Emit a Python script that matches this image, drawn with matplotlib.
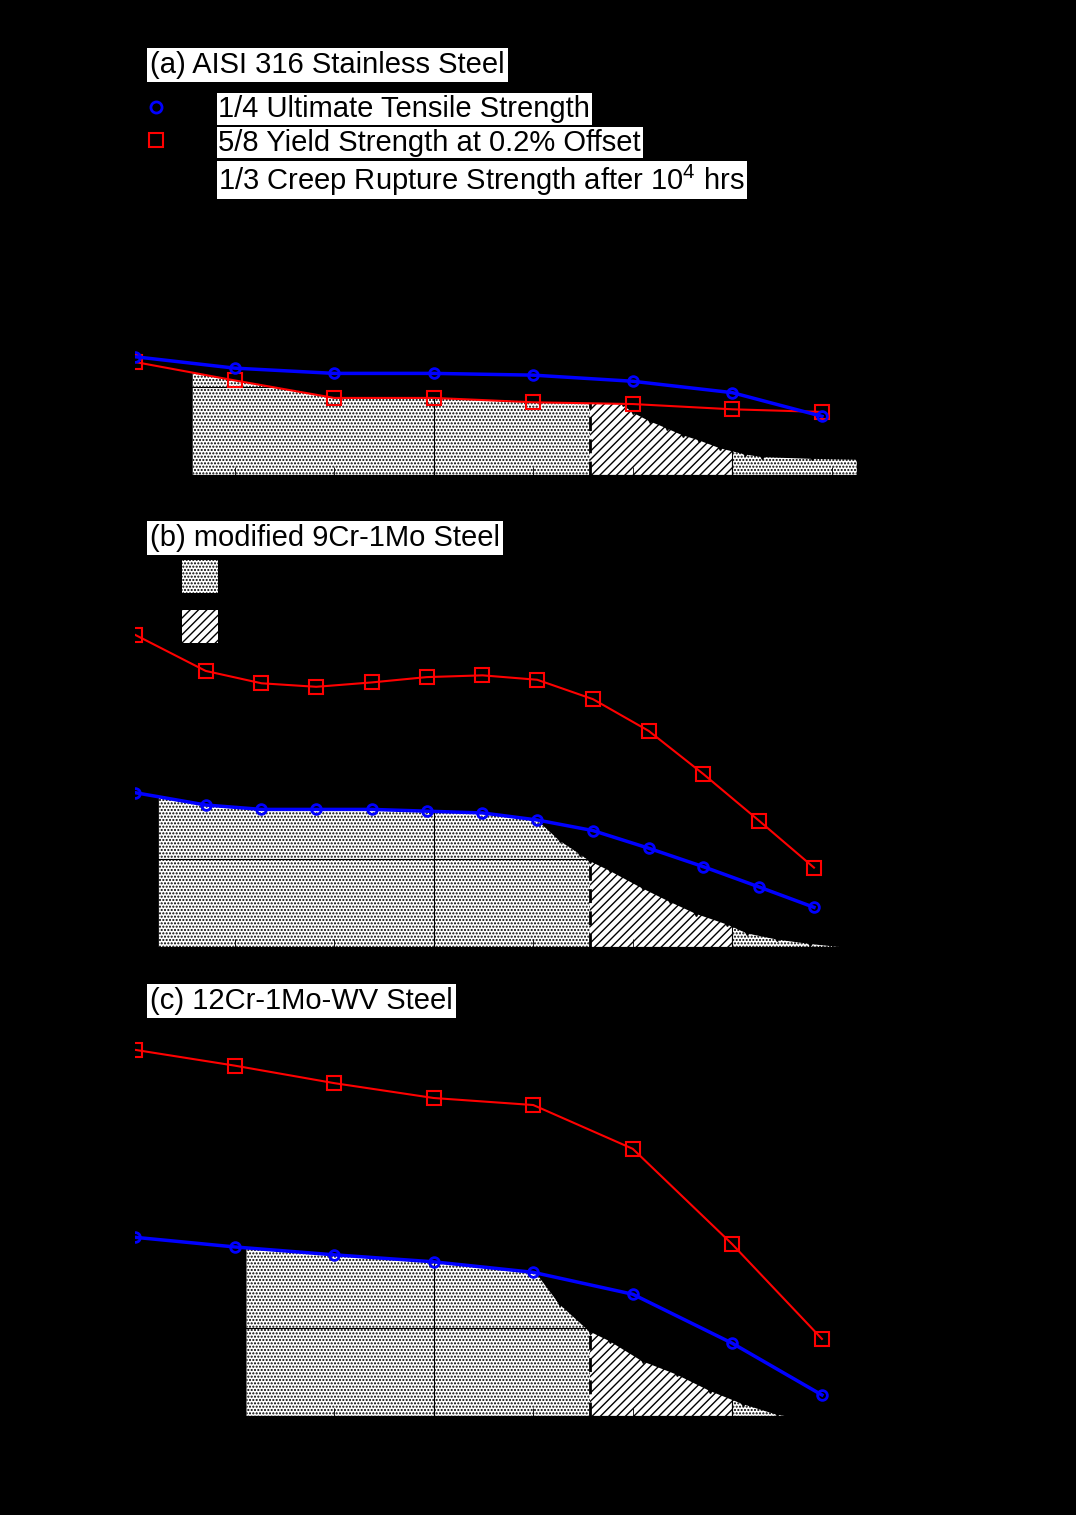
import numpy as np
import matplotlib
matplotlib.use('Agg')
import matplotlib.pyplot as plt
from matplotlib.lines import Line2D
from matplotlib.patches import Patch

plt.rcParams['font.family'] = ['Liberation Sans', 'DejaVu Sans']
plt.rcParams['mathtext.default'] = 'regular'
plt.rcParams['hatch.linewidth'] = 1.0
plt.rcParams['hatch.color'] = 'black'

# (a) AISI 316 stainless steel
T_a = [300, 400, 500, 600, 700, 800, 900, 990]
uts_a = [135, 122, 116, 116, 114, 107, 94, 67]
ys_a = [129, 108, 88, 88, 83, 81, 75, 72]
creepT_a = [760, 790, 800, 817, 834, 850, 867, 888, 913, 930, 980, 1025]
creep_a = [95, 82, 73, 63, 55, 47, 41, 32, 25, 22, 20, 19]

# (b) modified 9Cr-1Mo steel
T_b = [300, 371, 427, 482, 538, 593, 649, 704, 760, 816, 871, 927, 982]
uts_b = [175, 161, 156, 156, 156, 154, 152, 144, 132, 112, 91, 68, 45]
ys_b = [354, 313, 299, 295, 300, 306, 308, 303, 281, 245, 196, 143, 90]
creepT_b = [700, 727, 747, 757, 777, 810, 837, 864, 895, 915, 945, 978, 1021]
creep_b = [150, 122, 107, 99, 88, 68, 53, 39, 27, 17, 10, 5, 0]

# (c) 12Cr-1Mo-WV steel
T_c = [300, 400, 500, 600, 700, 800, 900, 990]
uts_c = [204, 193, 184, 176, 164, 139, 83, 24]
ys_c = [418, 400, 380, 363, 355, 305, 196, 88]
creepT_c = [700, 727, 757, 777, 810, 844, 878, 911, 945, 961]
creep_c = [170, 129, 98, 87, 64, 49, 30, 15, 3, 0]

# region limits (start / end of shaded area)
fill_lim = {'a': (358, 1025), 'b': (324, 1021), 'c': (412, 961)}
T_dash = 757
T_hatch_end = 900

titles = {'a': '(a) AISI 316 Stainless Steel',
          'b': '(b) modified 9Cr-1Mo Steel',
          'c': '(c) 12Cr-1Mo-WV Steel'}

FS = 21

fig = plt.figure(figsize=(10.76, 15.15), dpi=100, facecolor='black')
left = 135 / 1076
width = (1031 - 135) / 1076
tops = [37, 506, 978]
bots = [475, 947, 1416]
axes = []
for t, b in zip(tops, bots):
    ax = fig.add_axes([left, 1 - b / 1515, width, (b - t) / 1515])
    axes.append(ax)

data = [('a', T_a, uts_a, ys_a, creepT_a, creep_a),
        ('b', T_b, uts_b, ys_b, creepT_b, creep_b),
        ('c', T_c, uts_c, ys_c, creepT_c, creep_c)]

for ax, (key, T, uts, ys, cT, cS) in zip(axes, data):
    ax.set_facecolor('black')
    t0, t1 = fill_lim[key]
    grid = np.union1d(np.linspace(t0, t1, 600), [T_dash, T_hatch_end])
    # allowable stress = lowest of the three criteria
    top = np.minimum.reduce([np.interp(grid, T, uts),
                             np.interp(grid, T, ys),
                             np.interp(grid, cT, cS, left=np.inf)])
    m1 = grid <= T_dash
    m2 = (grid >= T_dash) & (grid <= T_hatch_end)
    m3 = grid >= T_hatch_end
    ax.fill_between(grid[m1], 0, top[m1], facecolor='white', edgecolor='black',
                    hatch='.....', linewidth=0, zorder=1)
    ax.fill_between(grid[m2], 0, top[m2], facecolor='white', edgecolor='black',
                    hatch='////', linewidth=0, zorder=1)
    ax.fill_between(grid[m3], 0, top[m3], facecolor='white', edgecolor='black',
                    hatch='.....', linewidth=0, zorder=1)
    ax.vlines(T_dash, 0, np.interp(T_dash, grid, top), colors='black',
              linestyles=(0, (5, 3)), linewidth=2, zorder=2)

    ax.plot(cT, cS, color='black', lw=2, marker='v', ms=5, zorder=2.6)
    ax.plot(T, ys, color='red', lw=1.5, marker='s', ms=10, mfc='none', mew=1.5, zorder=3)
    ax.plot(T, uts, color='blue', lw=2.5, marker='o', ms=7, mfc='none', mew=2, zorder=3)

    ax.set_xlim(300, 1200)
    ax.set_ylim(0, 500)
    ax.set_xticks([300, 600, 900, 1200])
    ax.set_xticks(np.arange(300, 1201, 100), minor=True)
    ax.set_yticks([0, 100, 200, 300, 400, 500])
    ax.grid(True, which='major', color='black', linewidth=0.8)
    ax.set_axisbelow(False)
    ax.tick_params(direction='in', which='both', colors='black', labelsize=FS,
                   length=6, pad=10)
    ax.tick_params(which='major', length=10)
    for s in ax.spines.values():
        s.set_color('black')
    ax.set_ylabel('Stress (MPa)', fontsize=FS, color='black')
    ax.yaxis.set_label_coords(-0.1, 0.5)
    if key != 'c':
        ax.tick_params(labelbottom=False)

    ty = {'a': 0.936, 'b': 0.927, 'c': 0.9475}[key]
    ax.text(0.017, ty, titles[key], transform=ax.transAxes, fontsize=FS,
            va='center', ha='left', color='black', zorder=5,
            bbox=dict(boxstyle='square,pad=0.1', facecolor='white', edgecolor='none'))

axes[2].set_xlabel('Temperature (\u00b0C)', fontsize=FS, color='black')
axes[2].xaxis.set_label_coords(0.502, -0.153)

# legend of the strength curves
handles = [Line2D([], [], color='blue', ls='none', marker='o', ms=8, mfc='none', mew=2),
           Line2D([], [], color='red', ls='none', marker='s', ms=10, mfc='none', mew=1.5),
           Line2D([], [], color='black', ls='none', marker='v', ms=5)]
labels = ['1/4 Ultimate Tensile Strength',
          '5/8 Yield Strength at 0.2% Offset',
          '1/3 Creep Rupture Strength after 10$^{4}$ hrs']
leg = axes[0].legend(handles, labels, loc='upper left', bbox_to_anchor=(0.0067, 0.868),
                     frameon=False, fontsize=FS, borderpad=0, borderaxespad=0,
                     handlelength=1.0, handletextpad=1.65, labelspacing=0.2)
for txt in leg.get_texts():
    txt.set_color('black')
    txt.set_bbox(dict(boxstyle='square,pad=0.06', facecolor='white', edgecolor='none'))

# legend of the shaded regions
patches = [Patch(facecolor='white', edgecolor='black', hatch='.....', linewidth=0),
           Patch(facecolor='white', edgecolor='black', hatch='////', linewidth=0)]
plabels = ['Negligible creep regime', 'Dominating thermal creep regime']
leg2 = axes[1].legend(patches, plabels, loc='upper left', bbox_to_anchor=(0.052, 0.878),
                      frameon=False, fontsize=FS, borderpad=0, borderaxespad=0,
                      handlelength=1.24, handleheight=1.35, handletextpad=0.35,
                      labelspacing=0.6)
for txt in leg2.get_texts():
    txt.set_color('black')

fig.savefig('out.png', dpi=100, facecolor='black')
